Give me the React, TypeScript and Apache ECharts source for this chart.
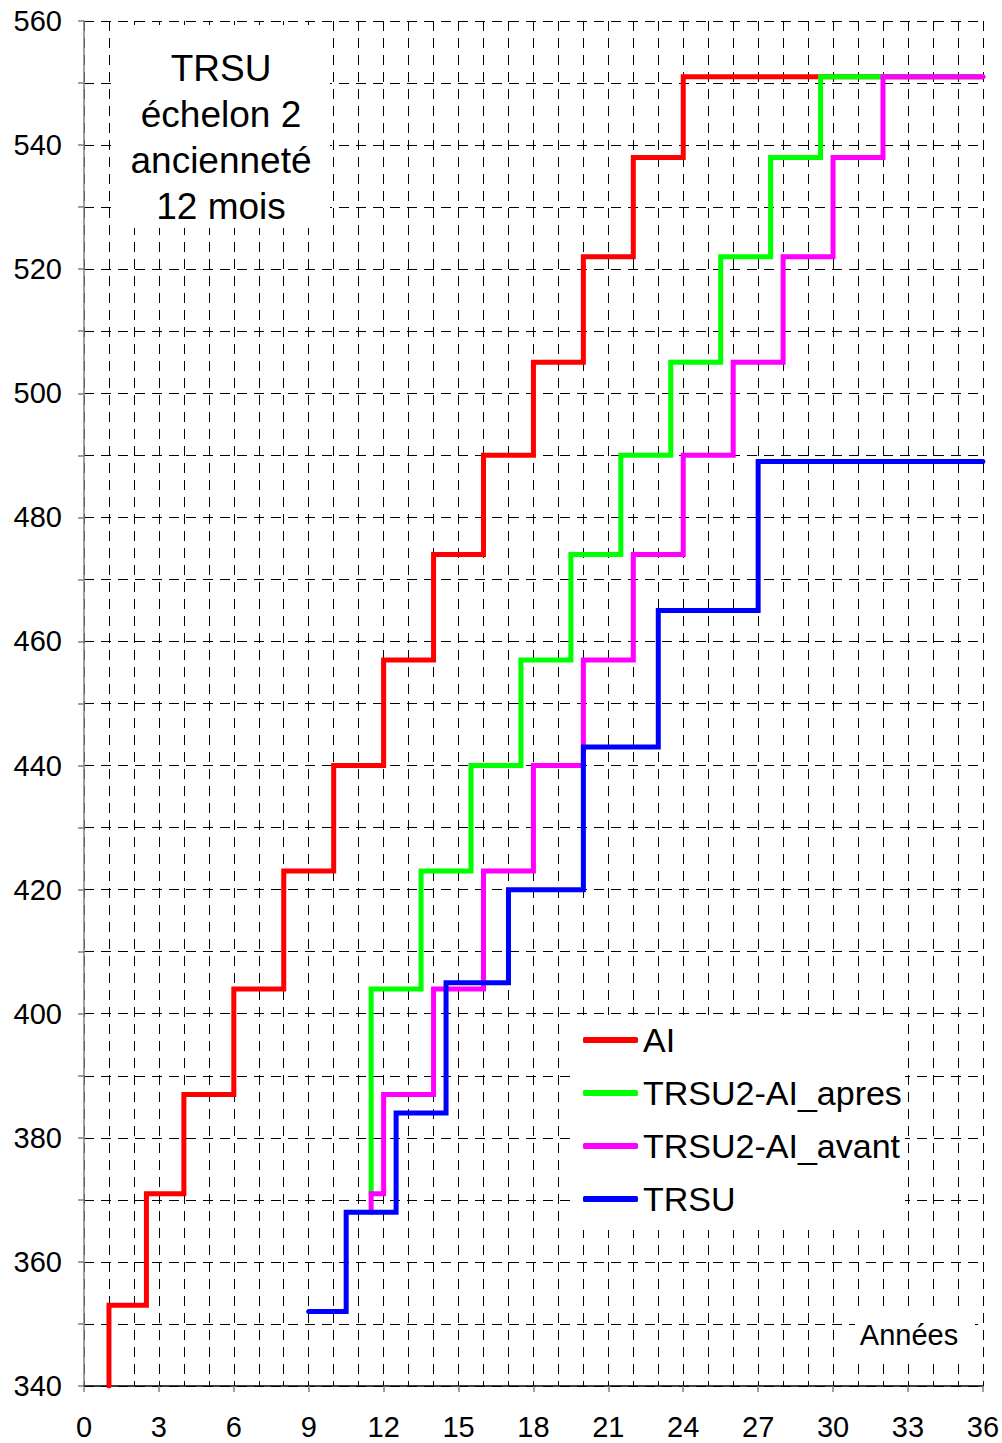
import React, { useEffect, useRef } from "react";
import * as echarts from "echarts";

const FONT = "'Liberation Sans', Arial, sans-serif";

const seriesNames = ["AI", "TRSU2-AI_apres", "TRSU2-AI_avant", "TRSU"];
const seriesColors = ["#ff0000", "#00ff00", "#ff00ff", "#0000ff"];

const endYear = 36;

// AI
const aiStart: [number, number] = [1, 340];
const aiYears = [1, 2.5, 4, 6, 8, 10, 12, 14, 16, 18, 20, 22, 24];
const aiLevels = [353, 371, 387, 404, 423, 440, 457, 474, 490, 505, 522, 538, 551];

// TRSU2-AI_apres
const apresStart: [number, number] = [11.5, 371];
const apresYears = [11.5, 13.5, 15.5, 17.5, 19.5, 21.5, 23.5, 25.5, 27.5, 29.5];
const apresLevels = [404, 423, 440, 457, 474, 490, 505, 522, 538, 551];

// TRSU2-AI_avant
const avantStart: [number, number] = [11.5, 368];
const avantYears = [11.5, 12, 14, 16, 18, 20, 22, 24, 26, 28, 30, 32];
const avantLevels = [371, 387, 404, 423, 440, 457, 474, 490, 505, 522, 538, 551];

// TRSU
const trsuStart: [number, number] = [9, 352];
const trsuYears = [10.5, 12.5, 14.5, 17, 20, 23, 27];
const trsuLevels = [368, 384, 405, 420, 443, 465, 489];

const xTicks = [0, 3, 6, 9, 12, 15, 18, 21, 24, 27, 30, 33, 36];
const yTicks = [340, 360, 380, 400, 420, 440, 460, 480, 500, 520, 540, 560];

const boxText = "TRSU\néchelon 2\nancienneté\n12 mois";
const xAxisTitle = "Années";

function buildSteps(start: [number, number], years: number[], levels: number[], xEnd: number) {
  const pts: number[][] = [[start[0], start[1]]];
  let prev = start[1];
  for (let i = 0; i < years.length; i++) {
    pts.push([years[i], prev]);
    pts.push([years[i], levels[i]]);
    prev = levels[i];
  }
  pts.push([xEnd, prev]);
  return pts;
}

export default function App() {
  const ref = useRef<HTMLDivElement>(null);
  useEffect(() => {
    document.body.style.margin = "0";
    const chart = echarts.init(ref.current!, null, { renderer: "svg" });
    const data = [
      buildSteps(aiStart, aiYears, aiLevels, endYear),
      buildSteps(apresStart, apresYears, apresLevels, endYear),
      buildSteps(avantStart, avantYears, avantLevels, endYear),
      buildSteps(trsuStart, trsuYears, trsuLevels, endYear),
    ];
    const dash = { type: [10, 7], color: "#000", width: 1 };
    chart.setOption({
      animation: false,
      backgroundColor: "#fff",
      grid: { left: 84, top: 21, right: 19, bottom: 57, containLabel: false },
      xAxis: {
        type: "value",
        min: xTicks[0],
        max: xTicks[xTicks.length - 1],
        interval: 3,
        axisLine: { show: true, onZero: false, lineStyle: { color: "#000", width: 1.5 } },
        axisTick: { show: true, inside: false, length: 6, lineStyle: { color: "#808080", width: 1.5 } },
        minorTick: { show: false, splitNumber: 3 },
        splitLine: { show: true, lineStyle: dash },
        minorSplitLine: { show: true, lineStyle: dash },
        axisLabel: { fontSize: 29, color: "#000", fontFamily: FONT, margin: 26 },
      },
      yAxis: {
        type: "value",
        min: yTicks[0],
        max: yTicks[yTicks.length - 1],
        interval: 20,
        axisLine: { show: true, onZero: false, lineStyle: { color: "#808080", width: 1.5 } },
        axisTick: { show: true, inside: false, length: 6, lineStyle: { color: "#808080", width: 1.5 } },
        minorTick: { show: true, splitNumber: 2, length: 6, lineStyle: { color: "#808080", width: 1.5 } },
        splitLine: { show: true, lineStyle: dash },
        minorSplitLine: { show: true, lineStyle: dash },
        axisLabel: { fontSize: 29, color: "#000", fontFamily: FONT, margin: 22 },
      },
      legend: {
        show: true,
        orient: "vertical",
        left: 575,
        top: 1015,
        padding: [8, 8, 8, 8],
        icon: "roundRect",
        itemWidth: 55,
        itemHeight: 6,
        itemGap: 19,
        z: 10,
        data: seriesNames,
        textStyle: { fontSize: 34, color: "#000", fontFamily: FONT, padding: [0, 0, 0, 0] },
      },
      graphic: [
        { type: "rect", z: 1, shape: { x: 112, y: 25, width: 218, height: 203 }, style: { fill: "#fff" } },
        {
          type: "text", z: 3, x: 221, y: 45,
          style: { text: boxText, fontSize: 37, lineHeight: 46, fill: "#000", fontFamily: FONT, textAlign: "center", textVerticalAlign: "top" },
        },
        { type: "rect", z: 1, shape: { x: 575, y: 1015, width: 330, height: 215 }, style: { fill: "#fff" } },
        { type: "rect", z: 1, shape: { x: 855, y: 1313, width: 120, height: 44 }, style: { fill: "#fff" } },
        {
          type: "text", z: 3, x: 909, y: 1335,
          style: { text: xAxisTitle, fontSize: 29, fill: "#000", fontFamily: FONT, textAlign: "center", textVerticalAlign: "middle" },
        },
      ],
      series: data.map((d, i) => ({
        name: seriesNames[i],
        type: "line",
        data: d,
        symbol: "none",
        showSymbol: false,
        z: 2 + i,
        color: seriesColors[i],
        itemStyle: { color: seriesColors[i] },
        lineStyle: { color: seriesColors[i], width: 5, cap: "round", join: "miter" },
      })),
    });
    return () => chart.dispose();
  }, []);
  return <div ref={ref} style={{ width: 1002, height: 1443 }} />;
}
